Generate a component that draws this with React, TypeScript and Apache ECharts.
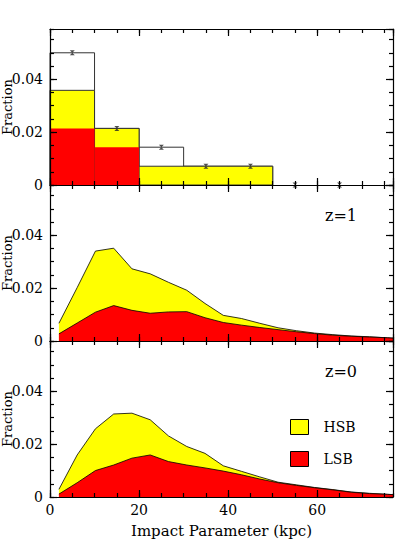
import React, { useEffect, useRef } from "react";
import * as echarts from "echarts";

// ---- Top panel: histogram (bin edges in kpc, fraction per bin) ----
const allBinStarts = [0, 10, 20, 30, 40, 50, 60];
const allBinEnds = [10, 20, 30, 40, 50, 60, 70];
const allFraction = [0.05, 0.0214, 0.0143, 0.0071, 0.0071, 0, 0];
const hsbBinStarts = [0, 10, 20];
const hsbBinEnds = [10, 20, 50];
const hsbFraction = [0.0358, 0.0214, 0.0071];
const lsbBinStarts = [0, 10];
const lsbBinEnds = [10, 20];
const lsbFraction = [0.0214, 0.0143];

// ---- Model curves ----
const impactParam = [2, 6.1, 10.2, 14.3, 18.4, 22.5, 26.6, 30.7, 34.8, 38.9, 43, 47.1, 51.2, 55.3, 59.4, 63.5, 67.6, 71.7, 75.8, 79.9];
const hsbZ1 = [0.0067, 0.0202, 0.034, 0.0351, 0.0273, 0.0254, 0.0222, 0.0192, 0.0142, 0.0097, 0.0085, 0.0067, 0.005, 0.0039, 0.003, 0.0024, 0.0019, 0.0016, 0.0012, 0.0008];
const lsbZ1 = [0.0027, 0.0068, 0.0109, 0.0134, 0.0116, 0.0105, 0.011, 0.0111, 0.0088, 0.0070, 0.006, 0.0051, 0.0043, 0.0035, 0.0028, 0.0022, 0.0018, 0.0015, 0.0012, 0.0008];
const hsbZ0 = [0.0029, 0.0159, 0.0258, 0.0314, 0.0317, 0.0292, 0.0231, 0.0191, 0.0165, 0.0118, 0.0097, 0.0076, 0.0056, 0.0046, 0.0036, 0.0028, 0.0019, 0.0014, 0.001, 0.0007];
const lsbZ0 = [0.0011, 0.0054, 0.01, 0.0121, 0.0147, 0.0159, 0.0134, 0.0121, 0.011, 0.0098, 0.0084, 0.0068, 0.0054, 0.0044, 0.0035, 0.0027, 0.0018, 0.0013, 0.001, 0.0006];

const xTickLabels = ["0", "20", "40", "60"];
const yTickLabels = ["0", "0.02", "0.04"];
const panelLabels = ["", "z=1", "z=0"];

const FONT = "DejaVu Serif";
const GRID_TOPS = [29, 185, 341];
const GRID_H = 156;
const X_MAX = 77;
const Y_MAX = 0.059;
const YELLOW = "#ffff00";
const RED = "#ff0000";

function histRows(starts: number[], ends: number[], vals: number[]) {
  return starts.map((s, i) => [s, ends[i], vals[i]]);
}

function histSeries(rows: number[][], fill: string, stroke: string, z: number) {
  return {
    type: "custom",
    xAxisIndex: 0,
    yAxisIndex: 0,
    z,
    data: rows,
    encode: { x: [0, 1], y: 2 },
    renderItem: (params: any, api: any) => {
      const x0 = api.value(0);
      const x1 = api.value(1);
      const y = api.value(2);
      if (!(y > 0)) return null;
      const p0 = api.coord([x0, y]);
      const p1 = api.coord([x1, 0]);
      return {
        type: "rect",
        shape: { x: p0[0], y: p0[1], width: p1[0] - p0[0], height: p1[1] - p0[1] },
        style: { fill, stroke, lineWidth: stroke === "none" ? 0 : 1 },
      };
    },
  };
}

const tickStyle = { color: "#000", width: 1.2 };

function buildOption() {
  const grid = GRID_TOPS.map((t) => ({
    left: 50,
    top: t,
    width: 343,
    height: GRID_H,
    containLabel: false,
    outerBoundsMode: "none",
  }));
  const xAxis: any[] = [];
  const yAxis: any[] = [];
  for (let g = 0; g < 3; g++) {
    for (const pos of ["bottom", "top"]) {
      const isLabelled = g === 2 && pos === "bottom";
      xAxis.push({
        type: "value",
        gridIndex: g,
        position: pos,
        z: 10,
        min: 0,
        max: X_MAX,
        interval: 20,
        splitLine: { show: false },
        axisLine: { show: true, onZero: false, lineStyle: { color: "#000", width: 1.2 } },
        axisTick: { show: true, inside: true, length: 7, lineStyle: tickStyle },
        axisLabel: isLabelled
          ? {
              show: true,
              margin: 6,
              showMaxLabel: false,
              color: "#000",
              fontFamily: FONT,
              fontSize: 14,
              formatter: (v: number) => xTickLabels[Math.round(v / 20)] ?? "",
            }
          : { show: false },
        name: isLabelled ? "Impact Parameter (kpc)" : "",
        nameLocation: "middle",
        nameGap: 26,
        nameMoveOverlap: false,
        nameTextStyle: { color: "#000", fontFamily: FONT, fontSize: 15 },
      });
      xAxis.push({
        type: "value",
        gridIndex: g,
        position: pos,
        z: 10,
        min: 0,
        max: X_MAX,
        interval: 5,
        splitLine: { show: false },
        axisLine: { show: false, onZero: false },
        axisTick: { show: true, inside: true, length: 4, lineStyle: tickStyle },
        axisLabel: { show: false },
      });
    }
    for (const pos of ["left", "right"]) {
      const isLabelled = pos === "left";
      yAxis.push({
        type: "value",
        gridIndex: g,
        position: pos,
        z: 10,
        min: 0,
        max: Y_MAX,
        interval: 0.02,
        splitLine: { show: false },
        axisLine: { show: true, onZero: false, lineStyle: { color: "#000", width: 1.2 } },
        axisTick: { show: true, inside: true, length: 7, lineStyle: tickStyle },
        axisLabel: isLabelled
          ? {
              show: true,
              margin: 7,
              showMaxLabel: false,
              color: "#000",
              fontFamily: FONT,
              fontSize: 14,
              formatter: (v: number) => yTickLabels[Math.round(v / 0.02)] ?? "",
            }
          : { show: false },
        name: isLabelled ? "Fraction" : "",
        nameLocation: "middle",
        nameGap: 36,
        nameMoveOverlap: false,
        nameTextStyle: { color: "#000", fontFamily: FONT, fontSize: 13 },
      });
      yAxis.push({
        type: "value",
        gridIndex: g,
        position: pos,
        z: 10,
        min: 0,
        max: Y_MAX,
        interval: 0.005,
        splitLine: { show: false },
        axisLine: { show: false, onZero: false },
        axisTick: { show: true, inside: true, length: 4, lineStyle: tickStyle },
        axisLabel: { show: false },
      });
    }
  }

  const curveSeries = (g: number, name: string, vals: number[], color: string, z: number) => ({
    type: "line",
    name,
    xAxisIndex: 4 * g,
    yAxisIndex: 4 * g,
    data: impactParam.map((x, i) => [x, vals[i]]),
    symbol: "none",
    clip: true,
    z,
    lineStyle: { color: "#000", width: 0.8 },
    itemStyle: { color },
    areaStyle: { color, opacity: 1 },
  });

  const series: any[] = [
    histSeries(histRows(allBinStarts, allBinEnds, allFraction), "#ffffff", "#333", 1),
    histSeries(histRows(hsbBinStarts, hsbBinEnds, hsbFraction), YELLOW, "#333", 2),
    histSeries(histRows(lsbBinStarts, lsbBinEnds, lsbFraction), RED, "none", 3),
    {
      type: "scatter",
      xAxisIndex: 0,
      yAxisIndex: 0,
      z: 5,
      clip: false,
      symbol: "path://M0,0L10,0L0,10L10,10Z",
      symbolSize: 5,
      itemStyle: { color: "#222" },
      data: allBinStarts.map((s, i) => [(s + allBinEnds[i]) / 2, allFraction[i]]),
    },
    curveSeries(1, "HSB", hsbZ1, YELLOW, 2),
    curveSeries(1, "LSB", lsbZ1, RED, 3),
    curveSeries(2, "HSB", hsbZ0, YELLOW, 2),
    curveSeries(2, "LSB", lsbZ0, RED, 3),
  ];

  return {
    animation: false,
    backgroundColor: "#fff",
    grid,
    xAxis,
    yAxis,
    series,
    legend: {
      left: 290,
      top: 419,
      padding: 0,
      orient: "vertical",
      itemWidth: 18,
      itemHeight: 15,
      itemGap: 16,
      selectedMode: false,
      textStyle: { color: "#000", fontFamily: FONT, fontSize: 14, padding: [0, 0, 0, 10] },
      data: [
        { name: "HSB", icon: "rect", itemStyle: { color: YELLOW, borderColor: "#000", borderWidth: 1 } },
        { name: "LSB", icon: "rect", itemStyle: { color: RED, borderColor: "#000", borderWidth: 1 } },
      ],
    },
    graphic: panelLabels
      .map((t, g) =>
        t
          ? {
              type: "text",
              left: 325,
              top: GRID_TOPS[g] + 22,
              style: { text: t, fill: "#000", font: `16px "${FONT}"` },
            }
          : null
      )
      .filter(Boolean),
  };
}

export default function App() {
  const ref = useRef<HTMLDivElement>(null);
  useEffect(() => {
    if (!ref.current) return;
    const chart = echarts.init(ref.current, null, { renderer: "svg" });
    chart.setOption(buildOption() as any);
    return () => chart.dispose();
  }, []);
  return <div ref={ref} style={{ width: 415, height: 553, position: "absolute", left: 0, top: 0 }} />;
}
